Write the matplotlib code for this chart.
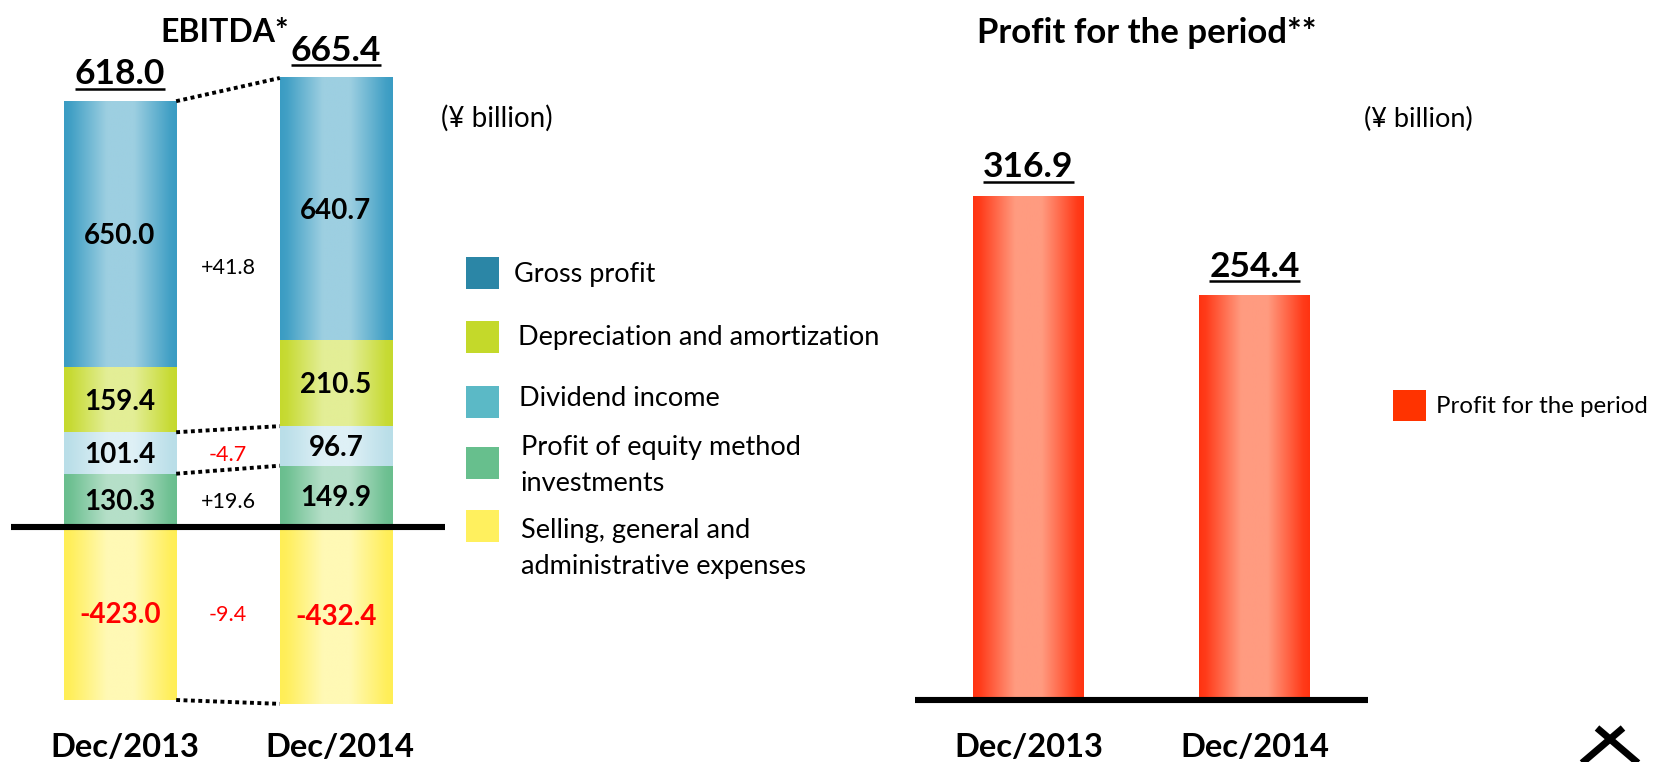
import numpy as np
import matplotlib
matplotlib.use('Agg')
import matplotlib.pyplot as plt
import matplotlib.transforms as mtransforms
from matplotlib.colors import to_rgb
from matplotlib.patches import Rectangle
from matplotlib.lines import Line2D

# ---------------- data ----------------
periods = ['Dec/2013', 'Dec/2014']
components = ['Gross profit', 'Depreciation and amortization', 'Dividend income',
              'Profit of equity method\ninvestments',
              'Selling, general and\nadministrative expenses']
gross_profit = [650.0, 640.7]
depreciation = [159.4, 210.5]
dividend_income = [101.4, 96.7]
equity_method = [130.3, 149.9]
sga_expenses = [-423.0, -432.4]
ebitda = [618.0, 665.4]
profit_for_period = [316.9, 254.4]
profit_label = 'Profit for the period'
unit_label = '(\u00a5 billion)'

# ---------------- style ----------------
FONT = 'Lato'
plt.rcParams['font.family'] = [FONT, 'DejaVu Sans']
W, H = 1654, 762
fig = plt.figure(figsize=(W / 100, H / 100), dpi=100)

seg_colors = {  # (edge, centre) of the gradient, legend swatch
    'gross': ('#3A9CC3', '#9DCFE1', '#2B86A6'),
    'dep': ('#C5D92D', '#E3EE96', '#C4D92A'),
    'div': ('#B9DEE8', '#DEF0F6', '#5BB9C6'),
    'eq': ('#69BE8E', '#B5DFC8', '#67BF8D'),
    'sga': ('#FFEE55', '#FFF9B5', '#FFF05E'),
    'red': ('#FF3311', '#FF9B80', '#FF3300'),
}


def grad_img(edge, center, n=256):
    t = np.linspace(0, 1, n)
    f = np.interp(t, [0, 0.06, 0.38, 0.62, 0.94, 1], [0, 0.08, 1, 1, 0.08, 0])
    e = np.array(to_rgb(edge))
    c = np.array(to_rgb(center))
    img = e[None, :] + (c - e)[None, :] * f[:, None]
    return img[None, :, :]


def gradient_bar(ax, x, y0, y1, w, key):
    edge, center, _ = seg_colors[key]
    ax.imshow(grad_img(edge, center), extent=[x - w / 2, x + w / 2, min(y0, y1), max(y0, y1)],
              aspect='auto', interpolation='bilinear', zorder=2)


# ---------------- left panel: EBITDA ----------------
ax1 = fig.add_axes([0, 0, 460 / W, 1])
ax1.axis('off')
s1 = 0.409
xs = np.arange(len(periods))
bw = 0.52

seg_order = [('eq', equity_method), ('div', dividend_income), ('dep', depreciation), ('gross', gross_profit)]
bounds = []
for i in xs:
    b = [0.0]
    for key, vals in seg_order:
        gradient_bar(ax1, i, b[-1], b[-1] + vals[i], bw, key)
        b.append(b[-1] + vals[i])
    gradient_bar(ax1, i, 0, sga_expenses[i], bw, 'sga')
    bounds.append(b)

ax1.plot([-0.505, 1.505], [0, 0], color='black', lw=4.4, solid_capstyle='butt', zorder=4)

# dotted connectors
conn_levels = [(bounds[0][4], bounds[1][4]), (bounds[0][2], bounds[1][2]),
               (bounds[0][1], bounds[1][1]), (sga_expenses[0], sga_expenses[1])]
for ya, yb in conn_levels:
    ax1.plot([bw / 2, 1 - bw / 2], [ya, yb], color='black', lw=2.8,
             linestyle=(0, (1, 0.9)), dash_capstyle='butt', zorder=3)

cap = 0.7165


def center_label(ax, x, y, s, fs, color='black', weight='bold'):
    ax.annotate(s, xy=(x, y), xytext=(0, -cap * fs / 2), textcoords='offset points',
                ha='center', va='baseline', fontsize=fs, fontweight=weight, color=color, zorder=5)


for i in xs:
    b = bounds[i]
    for k, (key, vals) in enumerate(seg_order):
        center_label(ax1, i, (b[k] + b[k + 1]) / 2, f'{vals[i]:.1f}', 20)
    center_label(ax1, i, sga_expenses[i] / 2, f'{sga_expenses[i]:.1f}', 20, color='#FF0000')

# change labels between bars
chg = [
    (gross_profit[1] + depreciation[1]) - (gross_profit[0] + depreciation[0]),
    dividend_income[1] - dividend_income[0],
    equity_method[1] - equity_method[0],
    sga_expenses[1] - sga_expenses[0],
]
chg_y = [(bounds[0][2] + bounds[0][4]) / 2, (bounds[0][1] + bounds[0][2]) / 2,
         (bounds[0][0] + bounds[0][1]) / 2, sga_expenses[0] / 2]
for d, y in zip(chg, chg_y):
    center_label(ax1, 0.5, y, f'{d:+.1f}', 15.5, color='black' if d >= 0 else '#FF0000', weight='normal')

ax1.set_xlim(-120 / 216, 340 / 216)
ax1.set_ylim(-(H - 527) / s1, 527 / s1)

underline_targets = []
top_off = [17, 17]
for i in xs:
    top = bounds[i][-1]
    t = ax1.annotate(f'{ebitda[i]:.1f}', xy=(i, top), xytext=(0, top_off[i] * 72 / 100),
                     textcoords='offset points', ha='center', va='baseline',
                     fontsize=25.5, fontweight='bold', zorder=5)
    underline_targets.append((t, ax1, (i, top), top_off[i]))

trans1 = mtransforms.blended_transform_factory(ax1.transData, fig.transFigure)
for i in xs:
    ax1.text(i + 0.02, 1 - 757 / H, periods[i], transform=trans1, ha='center', va='baseline',
             fontsize=23.5, fontweight='bold')

fig.text(225 / W, 1 - 42 / H, 'EBITDA*', ha='center', va='baseline', fontsize=23, fontweight='bold')
fig.text(441 / W, 1 - 127 / H, unit_label, ha='left', va='baseline', fontsize=20)

# legend (left)
sq_tops = [257, 321, 386, 447, 510]
txt_x = [514, 518, 519, 521, 521]
txt_base = [282, 345, 406, 455, 538]
leg_keys = ['gross', 'dep', 'div', 'eq', 'sga']
for k, name in enumerate(components):
    fig.add_artist(Rectangle((466 / W, 1 - (sq_tops[k] + 32) / H), 33 / W, 32 / H,
                             transform=fig.transFigure, color=seg_colors[leg_keys[k]][2], lw=0))
    for j, line in enumerate(name.split('\n')):
        fig.text(txt_x[k] / W, 1 - (txt_base[k] + 36 * j) / H, line, ha='left', va='baseline',
                 fontsize=19.5)

# ---------------- right panel: profit for the period ----------------
ax2 = fig.add_axes([880 / W, 0, (W - 880) / W, 1])
ax2.axis('off')
s2 = 1.59
bw2 = 0.49
for i in xs:
    gradient_bar(ax2, i, 0, profit_for_period[i], bw2, 'red')
ax2.plot([-0.502, 1.502], [0, 0], color='black', lw=4.4, solid_capstyle='butt', zorder=4)
ax2.set_xlim(-(1028.5 - 880) / 226, (W - 1028.5) / 226)
ax2.set_ylim(-(H - 700) / s2, 700 / s2)

for i in xs:
    t = ax2.annotate(f'{profit_for_period[i]:.1f}', xy=(i, profit_for_period[i]),
                     xytext=(0, 19 * 72 / 100), textcoords='offset points', ha='center',
                     va='baseline', fontsize=25.5, fontweight='bold', zorder=5)
    underline_targets.append((t, ax2, (i, profit_for_period[i]), 19))

trans2 = mtransforms.blended_transform_factory(ax2.transData, fig.transFigure)
for i in xs:
    ax2.text(i, 1 - 757 / H, periods[i], transform=trans2, ha='center', va='baseline',
             fontsize=23.5, fontweight='bold')

fig.text(1147 / W, 1 - 43 / H, 'Profit for the period**', ha='center', va='baseline',
         fontsize=25, fontweight='bold')
fig.text(1364 / W, 1 - 127 / H, unit_label, ha='left', va='baseline', fontsize=19.5)
fig.add_artist(Rectangle((1393 / W, 1 - 421 / H), 33 / W, 31 / H, transform=fig.transFigure,
                         color=seg_colors['red'][2], lw=0))
fig.text(1436 / W, 1 - 413 / H, profit_label, ha='left', va='baseline', fontsize=17.3)

# decorative glyph bottom-right
for (xa, ya, xb, yb) in [(1597, 728, 1645, 769), (1623, 728, 1575, 769)]:
    fig.add_artist(Line2D([xa / W, xb / W], [1 - ya / H, 1 - yb / H], transform=fig.transFigure,
                          color='black', lw=5, solid_capstyle='butt'))

# underlines for the total labels
fig.canvas.draw()
renderer = fig.canvas.get_renderer()
for t, ax, xy, off in underline_targets:
    bb = t.get_window_extent(renderer)
    base = ax.transData.transform(xy)[1] + off
    uy = base - 4.5
    fig.add_artist(Line2D([bb.x0 / W, bb.x1 / W], [uy / H, uy / H], transform=fig.transFigure,
                          color='black', lw=1.8, solid_capstyle='butt'))

fig.savefig('out.png', dpi=100)
